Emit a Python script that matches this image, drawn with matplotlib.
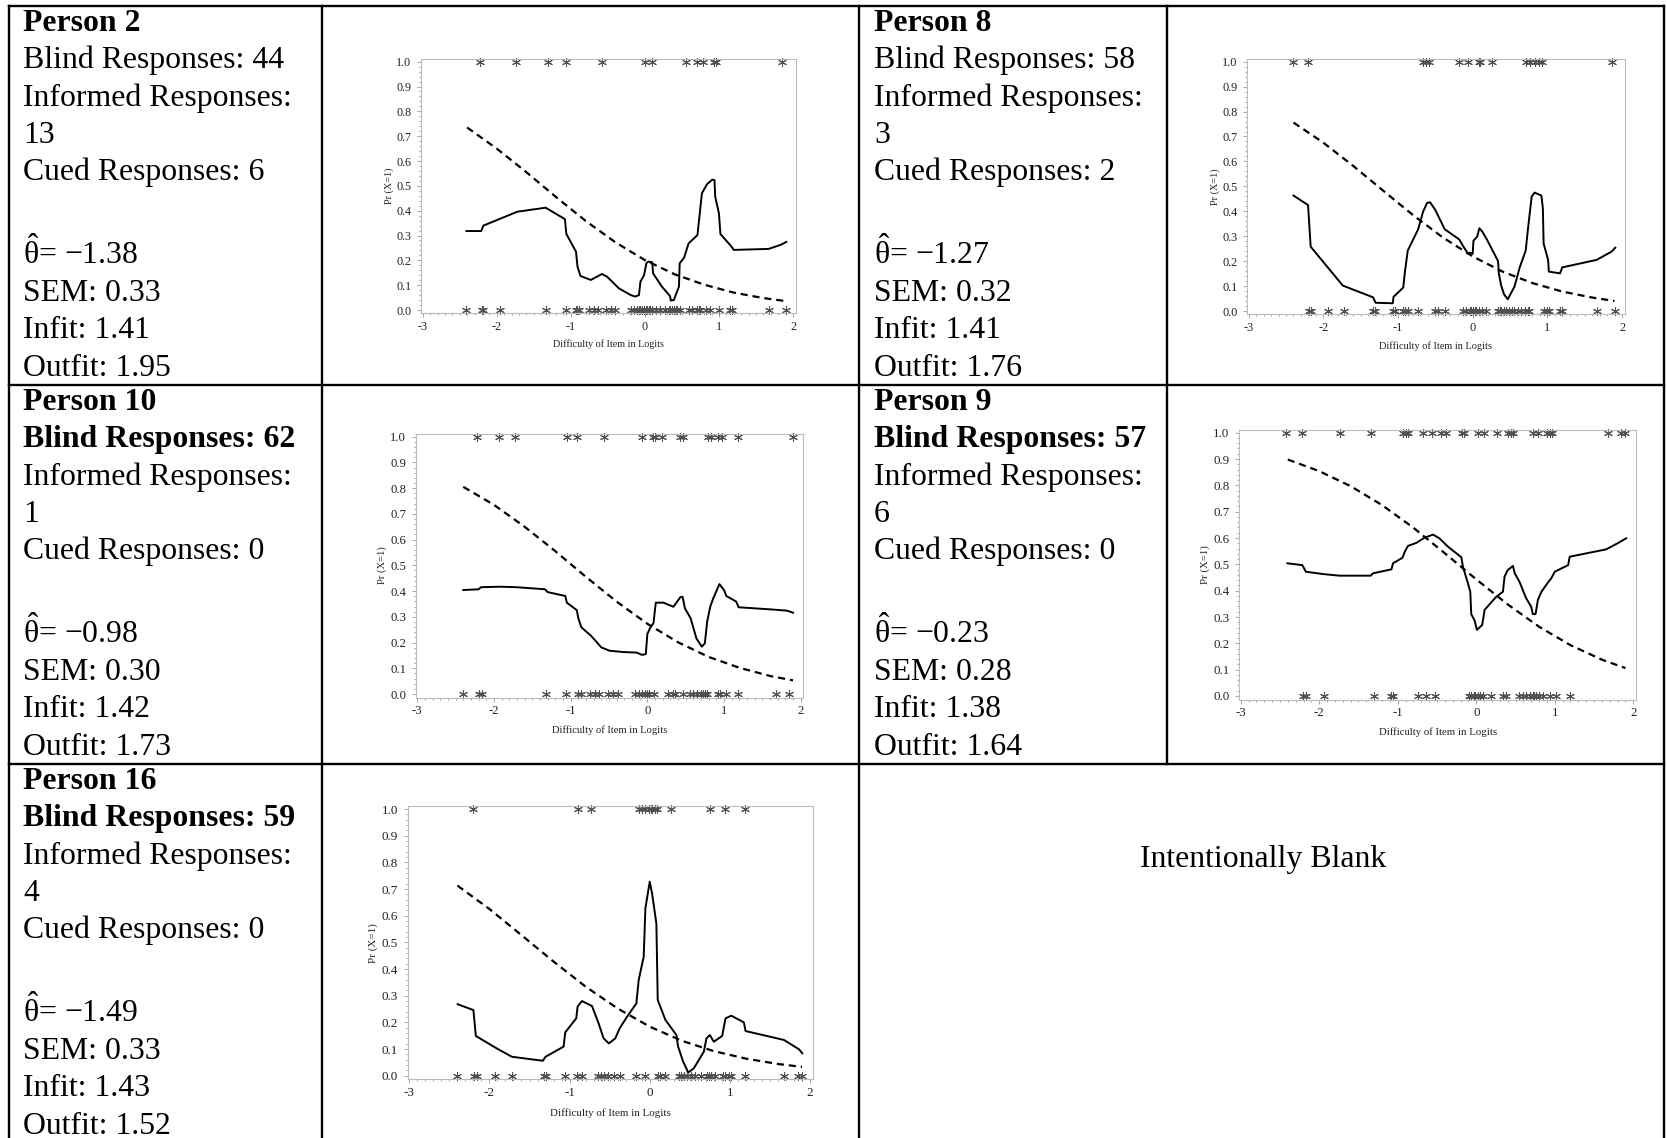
#!/usr/bin/env python3

import matplotlib
matplotlib.use("Agg")
import matplotlib.pyplot as plt
from matplotlib.ticker import MultipleLocator, FormatStrFormatter

# Person summaries, in table order
persons = ["Person 2", "Person 8", "Person 10", "Person 9", "Person 16"]
blind = [44, 58, 62, 57, 59]
informed = [13, 3, 1, 6, 4]
cued = [6, 2, 0, 0, 0]
theta = [-1.38, -1.27, -0.98, -0.23, -1.49]
sem = [0.33, 0.32, 0.30, 0.28, 0.33]
infit = [1.41, 1.41, 1.42, 1.38, 1.43]
outfit = [1.95, 1.76, 1.73, 1.64, 1.52]
blind_bold = [False, False, True, True, True]

# Expected (model) curves
dash_x = [-2.4, -2.0, -1.6, -1.2, -0.8, -0.4, 0.0, 0.4, 0.8, 1.2, 1.6, 1.9]
p2_dash = [0.735, 0.650, 0.555, 0.455, 0.359, 0.273, 0.201, 0.144, 0.102, 0.070, 0.048, 0.036]
p8_dash = [0.756, 0.675, 0.582, 0.483, 0.385, 0.295, 0.219, 0.158, 0.112, 0.078, 0.054, 0.040]
p10_dash = [0.805, 0.735, 0.650, 0.555, 0.455, 0.359, 0.273, 0.201, 0.144, 0.102, 0.070, 0.053]
p9_dash = [0.898, 0.854, 0.797, 0.725, 0.639, 0.542, 0.443, 0.348, 0.263, 0.193, 0.138, 0.106]
p16_dash = [0.713, 0.625, 0.527, 0.428, 0.334, 0.252, 0.184, 0.131, 0.092, 0.064, 0.044, 0.033]

# Observed (smoothed) curves
p2_solid_x = [-2.41, -2.21, -2.18, -1.72, -1.34, -1.08, -1.06, -0.93, -0.91, -0.87, -0.73, -0.58,
              -0.51, -0.35, -0.19, -0.13, -0.08, -0.06, -0.01, 0.02, 0.045, 0.10, 0.11, 0.23,
              0.34, 0.35, 0.39, 0.46, 0.47, 0.53, 0.59, 0.71, 0.77, 0.84, 0.91, 0.94, 0.95,
              1.00, 1.02, 1.17, 1.20, 1.67, 1.83, 1.91]
p2_solid_y = [0.318, 0.318, 0.34, 0.396, 0.412, 0.366, 0.306, 0.235, 0.175, 0.137, 0.121, 0.145,
              0.134, 0.087, 0.06, 0.054, 0.06, 0.114, 0.141, 0.188, 0.195, 0.192, 0.148, 0.094,
              0.056, 0.038, 0.040, 0.094, 0.188, 0.211, 0.268, 0.302, 0.47, 0.507, 0.525, 0.523,
              0.456, 0.389, 0.306, 0.255, 0.242, 0.246, 0.262, 0.274]

p8_solid_x = [-2.40, -2.205, -2.17, -1.74, -1.335, -1.30, -1.07, -1.06, -0.93, -0.91, -0.87, -0.73,
              -0.665, -0.61, -0.57, -0.50, -0.375, -0.18, -0.13, -0.06, -0.04, 0.0, 0.01, 0.06,
              0.09, 0.13, 0.19, 0.34, 0.35, 0.38, 0.42, 0.47, 0.56, 0.63, 0.71, 0.74, 0.79,
              0.83, 0.92, 0.94, 0.95, 1.01, 1.02, 1.17, 1.20, 1.66, 1.86, 1.91]
p8_solid_y = [0.463, 0.425, 0.258, 0.102, 0.055, 0.033, 0.031, 0.057, 0.094, 0.151, 0.242, 0.328,
              0.398, 0.434, 0.436, 0.405, 0.328, 0.287, 0.261, 0.229, 0.234, 0.229, 0.282, 0.298,
              0.332, 0.318, 0.287, 0.2, 0.151, 0.104, 0.067, 0.047, 0.098, 0.175, 0.242, 0.328,
              0.459, 0.475, 0.463, 0.412, 0.271, 0.205, 0.158, 0.151, 0.175, 0.205, 0.238, 0.254]

p10_solid_x = [-2.40, -2.20, -2.17, -1.92, -1.70, -1.335, -1.30, -1.07, -1.05, -0.92, -0.90, -0.86,
               -0.73, -0.60, -0.49, -0.31, -0.14, -0.07, -0.02, 0.0, 0.04, 0.08, 0.11, 0.21,
               0.34, 0.43, 0.46, 0.49, 0.565, 0.64, 0.71, 0.75, 0.78, 0.82, 0.86, 0.94, 1.0,
               1.03, 1.16, 1.19, 1.60, 1.82, 1.90]
p10_solid_y = [0.404, 0.407, 0.415, 0.417, 0.415, 0.407, 0.396, 0.381, 0.355, 0.326, 0.294, 0.259,
               0.225, 0.181, 0.168, 0.163, 0.161, 0.152, 0.155, 0.233, 0.259, 0.275, 0.355, 0.355,
               0.339, 0.376, 0.378, 0.333, 0.294, 0.216, 0.184, 0.197, 0.281, 0.339, 0.372, 0.427,
               0.404, 0.381, 0.359, 0.337, 0.329, 0.324, 0.316]

p9_solid_x = [-2.405, -2.215, -2.17, -1.95, -1.74, -1.345, -1.315, -1.08, -1.06, -0.94, -0.91, -0.87,
              -0.76, -0.66, -0.55, -0.47, -0.36, -0.19, -0.17, -0.106, -0.076, -0.064, -0.02, 0.008,
              0.076, 0.106, 0.255, 0.34, 0.36, 0.40, 0.467, 0.49, 0.55, 0.636, 0.70, 0.72, 0.755,
              0.785, 0.83, 0.91, 0.955, 1.0, 1.06, 1.17, 1.19, 1.655, 1.80, 1.91]
p9_solid_y = [0.504, 0.497, 0.472, 0.463, 0.457, 0.457, 0.466, 0.481, 0.504, 0.525, 0.548, 0.570,
              0.582, 0.601, 0.613, 0.599, 0.567, 0.527, 0.491, 0.428, 0.396, 0.311, 0.286, 0.251,
              0.270, 0.327, 0.377, 0.396, 0.453, 0.478, 0.494, 0.466, 0.434, 0.371, 0.339, 0.311,
              0.311, 0.365, 0.396, 0.430, 0.447, 0.472, 0.481, 0.497, 0.529, 0.557, 0.580, 0.599]

p16_solid_x = [-2.396, -2.20, -2.17, -1.91, -1.72, -1.333, -1.30, -1.075, -1.054, -0.917, -0.90,
               -0.846, -0.72, -0.6375, -0.575, -0.51, -0.43, -0.375, -0.283, -0.167, -0.1375,
               -0.075, -0.054, 0.0, 0.029, 0.083, 0.10, 0.196, 0.333, 0.354, 0.417, 0.467, 0.475,
               0.55, 0.675, 0.708, 0.75, 0.80, 0.904, 0.946, 1.018, 1.175, 1.196, 1.675, 1.8625, 1.904]
p16_solid_y = [0.268, 0.246, 0.149, 0.1025, 0.071, 0.056, 0.071, 0.109, 0.1625, 0.215, 0.259,
               0.28, 0.261, 0.196, 0.14, 0.121, 0.14, 0.1775, 0.221, 0.271, 0.359,
               0.446, 0.6275, 0.7275, 0.684, 0.571, 0.284, 0.209, 0.1525, 0.109, 0.0525, 0.021, 0.011,
               0.0275, 0.09, 0.14, 0.1525, 0.1275, 0.149, 0.215, 0.225, 0.2, 0.1675, 0.134, 0.099, 0.084]

# Item difficulties scored 1 (top row of asterisks) and 0 (bottom row)
p2_top = [-2.22, -1.745, -1.31, -1.07, -0.575, 0.0, 0.10, 0.55, 0.705, 0.78, 0.93, 0.96, 1.845]
p2_bottom = [-2.41, -2.20, -2.185, -1.95, -1.34, -1.06, -0.935, -0.91, -0.89, -0.75, -0.69, -0.63,
             -0.53, -0.46, -0.405, -0.19, -0.15, -0.10, -0.08, -0.06, -0.035, -0.015, 0.01, 0.03,
             0.055, 0.075, 0.10, 0.155, 0.21, 0.27, 0.325, 0.345, 0.37, 0.39, 0.415, 0.435, 0.47,
             0.595, 0.64, 0.705, 0.73, 0.75, 0.82, 0.885, 1.0, 1.155, 1.18, 1.67, 1.90]

p8_top = [-2.40, -2.205, -0.665, -0.62, -0.585, -0.18, -0.06, 0.085, 0.10, 0.26, 0.72, 0.77, 0.83,
          0.89, 0.93, 1.86]
p8_bottom = [-2.19, -2.17, -1.94, -1.73, -1.335, -1.31, -1.07, -1.045, -0.93, -0.90, -0.87, -0.73,
             -0.51, -0.46, -0.375, -0.13, -0.085, -0.04, -0.02, 0.0, 0.03, 0.05, 0.09, 0.12, 0.18,
             0.34, 0.36, 0.38, 0.415, 0.45, 0.48, 0.52, 0.56, 0.61, 0.65, 0.70, 0.74, 0.76, 0.95,
             0.99, 1.02, 1.165, 1.19, 1.665, 1.90]

p10_top = [-2.22, -1.93, -1.73, -1.05, -0.92, -0.565, -0.075, 0.07, 0.10, 0.185, 0.425, 0.47,
           0.795, 0.825, 0.925, 0.97, 1.185, 1.895]
p10_bottom = [-2.40, -2.19, -2.16, -1.32, -1.06, -0.90, -0.87, -0.75, -0.685, -0.63, -0.51, -0.445,
              -0.38, -0.16, -0.115, -0.075, -0.03, 0.0, 0.025, 0.085, 0.275, 0.33, 0.36, 0.46,
              0.555, 0.60, 0.65, 0.695, 0.73, 0.75, 0.78, 0.915, 0.95, 1.025, 1.185, 1.68, 1.85]

p9_top = [-2.42, -2.215, -1.74, -1.345, -0.93, -0.90, -0.87, -0.68, -0.57, -0.445, -0.38, -0.18,
          -0.15, 0.02, 0.095, 0.265, 0.405, 0.445, 0.465, 0.72, 0.785, 0.90, 0.935, 0.965, 1.675,
          1.845, 1.89]
p9_bottom = [-2.205, -2.17, -1.94, -1.30, -1.08, -1.06, -0.74, -0.635, -0.52, -0.095, -0.065,
             -0.035, -0.01, 0.02, 0.05, 0.085, 0.19, 0.34, 0.375, 0.55, 0.595, 0.635, 0.68, 0.72,
             0.74, 0.765, 0.805, 0.85, 0.935, 1.02, 1.19]

p16_top = [-2.20, -0.90, -0.735, -0.14, -0.095, -0.055, -0.015, 0.01, 0.03, 0.06, 0.09, 0.265,
           0.75, 0.945, 1.185]
p16_bottom = [-2.40, -2.19, -2.16, -1.93, -1.72, -1.325, -1.30, -1.055, -0.91, -0.845, -0.65,
              -0.61, -0.565, -0.515, -0.45, -0.375, -0.165, -0.065, 0.10, 0.125, 0.195, 0.36,
              0.39, 0.425, 0.465, 0.51, 0.57, 0.635, 0.71, 0.74, 0.76, 0.82, 0.915, 0.945, 0.99,
              1.01, 1.195, 1.675, 1.855, 1.905]

solid_x = [p2_solid_x, p8_solid_x, p10_solid_x, p9_solid_x, p16_solid_x]
solid_y = [p2_solid_y, p8_solid_y, p10_solid_y, p9_solid_y, p16_solid_y]
dash_y = [p2_dash, p8_dash, p10_dash, p9_dash, p16_dash]
tops = [p2_top, p8_top, p10_top, p9_top, p16_top]
bottoms = [p2_bottom, p8_bottom, p10_bottom, p9_bottom, p16_bottom]

plt.rcParams["font.family"] = ["Liberation Serif", "DejaVu Serif"]
plt.rcParams["mathtext.fontset"] = "custom"
plt.rcParams["mathtext.rm"] = "Liberation Serif"
plt.rcParams["mathtext.it"] = "Liberation Serif:italic"
plt.rcParams["mathtext.bf"] = "Liberation Serif:bold"

W, H = 1667, 1138
fig = plt.figure(figsize=(W / 100, H / 100), dpi=100)

# Table layer in pixel coordinates
tab = fig.add_axes([0, 0, 1, 1])
tab.set_xlim(0, W)
tab.set_ylim(H, 0)
tab.axis("off")

line_kw = dict(color="black", lw=1.7, solid_capstyle="projecting")
for y in [6, 385, 764]:
    tab.plot([9, 1664], [y, y], **line_kw)
for x in [9, 322, 859, 1664]:
    tab.plot([x, x], [6, H + 5], **line_kw)
tab.plot([1167, 1167], [6, 764], **line_kw)

# Text cells (left edge, row top)
cells = [(23, 6), (874, 6), (23, 385), (874, 385), (23, 764)]
fs_text = 22.9
step = 37.3

for i, (cx, ry) in enumerate(cells):
    lines = [
        (persons[i], "bold"),
        ("Blind Responses: {}".format(blind[i]), "bold" if blind_bold[i] else "normal"),
        ("Informed Responses:", "normal"),
        ("{}".format(informed[i]), "normal"),
        ("Cued Responses: {}".format(cued[i]), "normal"),
    ]
    base = ry + 25
    for j, (s, w) in enumerate(lines):
        tab.text(cx, base + j * step, s, fontsize=fs_text, fontweight=w, va="baseline")
    t_str = "{:.2f}".format(theta[i]).replace("-", "\u2212")
    tab.text(cx, base + 6 * step + 9, r"$\hat{\mathrm{\theta}}$= " + t_str,
             fontsize=fs_text, va="baseline")
    tab.text(cx, base + 7 * step + 9, "SEM: {:.2f}".format(sem[i]), fontsize=fs_text, va="baseline")
    tab.text(cx, base + 8 * step + 9, "Infit: {:.2f}".format(infit[i]), fontsize=fs_text, va="baseline")
    tab.text(cx, base + 9 * step + 9, "Outfit: {:.2f}".format(outfit[i]), fontsize=fs_text, va="baseline")

tab.text(1263, 867, "Intentionally Blank", fontsize=fs_text, ha="center", va="baseline")

# Plot anchors in pixels: x of -3, x of 2, y of 0.0, y of 1.0
plot_px = [(422.7, 793, 310, 61.7), (1248.7, 1622, 311, 61.7), (417.3, 800.7, 694, 436.7),
           (1240.7, 1633.3, 696, 432.7), (409.3, 810, 1075.7, 809)]
XMIN, XMAX, YMIN, YMAX = -3.02, 2.035, -0.014, 1.012

for i, (xm3, x2, y0, y1) in enumerate(plot_px):
    ux = (x2 - xm3) / 5.0
    uy = y0 - y1
    left = xm3 + (XMIN + 3) * ux
    right = x2 + (XMAX - 2) * ux
    top = y1 - (YMAX - 1) * uy
    bot = y0 - YMIN * uy
    ax = fig.add_axes([left / W, 1 - bot / H, (right - left) / W, (bot - top) / H])
    fs = 7.3 * ux / 74.0

    ax.plot(solid_x[i], solid_y[i], color="black", lw=1.4)
    ax.plot(dash_x, dash_y[i], color="black", lw=1.6, dashes=(3.2, 2.2))
    ax.plot(tops[i], [1.0] * len(tops[i]), ls="none", marker=(6, 2, 0), ms=6.3,
            mew=0.75, color="#505050", clip_on=False)
    ax.plot(bottoms[i], [0.0] * len(bottoms[i]), ls="none", marker=(6, 2, 0), ms=6.3,
            mew=0.75, color="#505050", clip_on=False)

    ax.set_xlim(XMIN, XMAX)
    ax.set_ylim(YMIN, YMAX)
    ax.xaxis.set_major_locator(MultipleLocator(1))
    ax.xaxis.set_minor_locator(MultipleLocator(0.1))
    ax.yaxis.set_major_locator(MultipleLocator(0.1))
    ax.yaxis.set_minor_locator(MultipleLocator(0.02))
    ax.xaxis.set_major_formatter(FormatStrFormatter("%d"))
    ax.yaxis.set_major_formatter(FormatStrFormatter("%.1f"))
    ax.tick_params(which="both", top=False, right=False, direction="out",
                   color="#999999", labelcolor="#222222", labelsize=fs * 1.2, width=0.6)
    ax.tick_params(which="major", length=3)
    ax.tick_params(which="minor", length=1.6)
    ax.tick_params(axis="y", pad=4.0)
    ax.tick_params(axis="x", pad=2.2)
    for sp in ax.spines.values():
        sp.set_color("#bbbbbb")
        sp.set_linewidth(0.8)

    w_px = right - left
    h_px = bot - top
    ax.set_xlabel("Difficulty of Item in Logits", fontsize=fs, color="#222222")
    ax.set_ylabel("Pr (X=1)", fontsize=fs, color="#222222")
    ax.xaxis.label.set_va("center")
    ax.yaxis.label.set_va("center")
    ax.xaxis.set_label_coords(0.5, -31.0 * ux / 74.0 / h_px)
    ax.yaxis.set_label_coords(-32.0 * ux / 74.0 / w_px, 0.5)

fig.savefig("out.png", dpi=100)
